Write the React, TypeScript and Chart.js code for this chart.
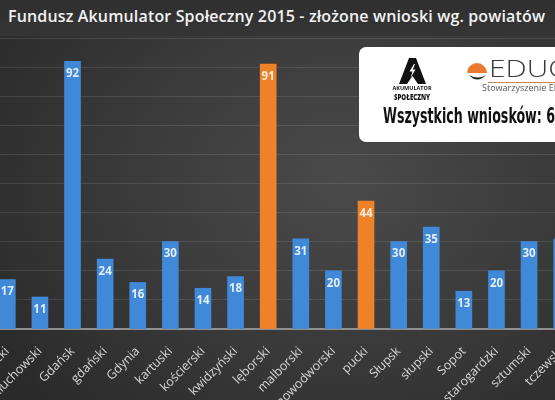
import React, { useEffect, useRef } from "react";
import { Chart, registerables } from "chart.js";

Chart.register(...registerables);

// ---- data ----
const categories = [
  "chojnicki",
  "człuchowski",
  "Gdańsk",
  "gdański",
  "Gdynia",
  "kartuski",
  "kościerski",
  "kwidzyński",
  "lęborski",
  "malborski",
  "nowodworski",
  "pucki",
  "Słupsk",
  "słupski",
  "Sopot",
  "starogardzki",
  "sztumski",
  "tczewski",
];
const applications = [17, 11, 92, 24, 16, 30, 14, 18, 91, 31, 20, 44, 30, 35, 13, 20, 30, 31];
const highlighted = ["lęborski", "pucki"];
const yMin = 0;
const yMax = 100;
const yStep = 10;
const titleText = "Fundusz Akumulator Społeczny 2015 - złożone wnioski wg. powiatów";
const totalText = "Wszystkich wniosków: 6";
const orgText = "Stowarzyszenie EDUQ";
const brandText = "EDUQ";

const BLUE = "#4089d8";
const ORANGE = "#ef8129";

const valueLabels = {
  id: "valueLabels",
  afterDatasetsDraw(chart: any) {
    const ctx = chart.ctx;
    const meta = chart.getDatasetMeta(0);
    ctx.save();
    ctx.font = "bold 11.5px 'Open Sans'";
    ctx.textAlign = "center";
    ctx.textBaseline = "middle";
    meta.data.forEach((bar: any, i: number) => {
      const v = chart.data.datasets[0].data[i];
      ctx.fillStyle = "rgba(255,255,255,0.85)";
      ctx.fillText(String(v), bar.x, bar.y + 12.5);
    });
    ctx.restore();
  },
};

export default function App() {
  const ref = useRef<HTMLCanvasElement | null>(null);

  useEffect(() => {
    if (!ref.current) return;
    const chart = new Chart(ref.current, {
      type: "bar",
      data: {
        labels: categories,
        datasets: [
          {
            data: applications,
            backgroundColor: categories.map((c) => (highlighted.includes(c) ? ORANGE : BLUE)),
            borderWidth: 0,
            barThickness: 16,
          },
        ],
      },
      options: {
        animation: false,
        responsive: false,
        devicePixelRatio: 1,
        layout: { autoPadding: false, padding: { top: 38, left: 0, right: 0, bottom: 0 } },
        plugins: {
          legend: { display: false },
          title: { display: false },
          tooltip: { enabled: false },
        },
        scales: {
          x: {
            offset: true,
            grid: { display: false },
            border: { display: true, color: "#8f8f8f", width: 2 },
            ticks: {
              color: "#d6d6d6",
              font: { family: "'Open Sans'", size: 12.5 },
              minRotation: 45,
              maxRotation: 45,
              autoSkip: false,
              padding: 7,
            },
            afterCalculateLabelRotation: (s: any) => {
              s.labelRotation = 45;
            },
            afterFit: (s: any) => {
              s.height = 71;
              s.paddingLeft = 0;
              s.paddingRight = 0;
            },
          },
          y: {
            min: yMin,
            max: yMax,
            ticks: { display: false, stepSize: yStep },
            grid: { color: "rgba(255,255,255,0.11)", lineWidth: 1, drawTicks: false },
            border: { display: false },
            afterFit: (s: any) => {
              s.width = 0;
              s.paddingTop = 0;
              s.paddingBottom = 0;
            },
          },
        },
      },
      plugins: [valueLabels],
    });
    return () => chart.destroy();
  }, []);

  return (
    <div>
      <div
        style={{
          position: "fixed",
          inset: 0,
          background:
            "radial-gradient(ellipse 75% 80% at 62% 45%, #4a4a4a 0%, #3b3b3b 50%, #2a2a2a 100%)",
        }}
      />
      <div
        style={{
          position: "fixed",
          left: 0,
          top: 0,
          width: 555,
          height: 36,
          background: "linear-gradient(#2f2f2f, #353535)",
        }}
      />
      <div
        style={{
          position: "fixed",
          left: 8,
          top: 8,
          whiteSpace: "nowrap",
          fontFamily: "'Open Sans'",
          fontWeight: 600,
          fontSize: 16,
          letterSpacing: 0.15,
          lineHeight: 1,
          color: "#f2f2f2",
        }}
      >
        {titleText}
      </div>
      <div style={{ position: "fixed", left: -9, top: 0, width: 587, height: 400 }}>
        <canvas ref={ref} width={587} height={400} style={{ width: 587, height: 400, display: "block" }} />
      </div>
      <svg
        style={{ position: "fixed", left: 359, top: 47 }}
        width={210}
        height={96}
        viewBox="0 0 210 96"
      >
        <rect x={0} y={0} width={230} height={95} rx={7} fill="#ffffff" />
        {/* Akumulator Społeczny logo */}
        <g transform="translate(41,11)">
          <polygon points="9,0 16,0 26,26 18,26 12.5,18 7,26 -1,26" fill="#111" />
          <polygon points="14,6 9.5,13.5 12.5,13.5 10.5,20 15.5,11.5 12.8,11.5 15,6" fill="#fff" />
        </g>
        <text x={53} y={43} fontFamily="'Open Sans'" fontWeight={700} fontSize={5.5} textAnchor="middle" fill="#111">
          AKUMULATOR
        </text>
        <text
          x={53}
          y={52.5}
          fontFamily="'Open Sans'"
          fontWeight={800}
          fontSize={8}
          textAnchor="middle"
          fill="#111"
          textLength={36}
          lengthAdjust="spacingAndGlyphs"
        >
          SPOŁECZNY
        </text>
        {/* EDUQ logo */}
        <path d="M108,26 A10,10 0 0 1 128,26 Z" fill="#ec7a2c" />
        <path d="M110,28 Q118,37 127,28 Q119,33 110,28 Z" fill="#222" />
        <text
          x={130}
          y={30}
          fontFamily="'Open Sans'"
          fontWeight={300}
          fontSize={24}
          fill="#3a3a3a"
          textLength={82}
          lengthAdjust="spacingAndGlyphs"
        >
          {brandText}
        </text>
        <line x1={129} y1={35.5} x2={210} y2={35.5} stroke="#c98a55" strokeWidth={1} />
        <text x={123} y={43.5} fontFamily="'Open Sans'" fontSize={9} fill="#555">
          {orgText}
        </text>
        <text
          x={24}
          y={76}
          fontFamily="'Liberation Sans Narrow', 'DejaVu Sans Condensed', sans-serif"
          fontWeight={700}
          fontSize={21}
          fill="#111"
          textLength={172}
          lengthAdjust="spacingAndGlyphs"
        >
          {totalText}
        </text>
      </svg>
    </div>
  );
}
